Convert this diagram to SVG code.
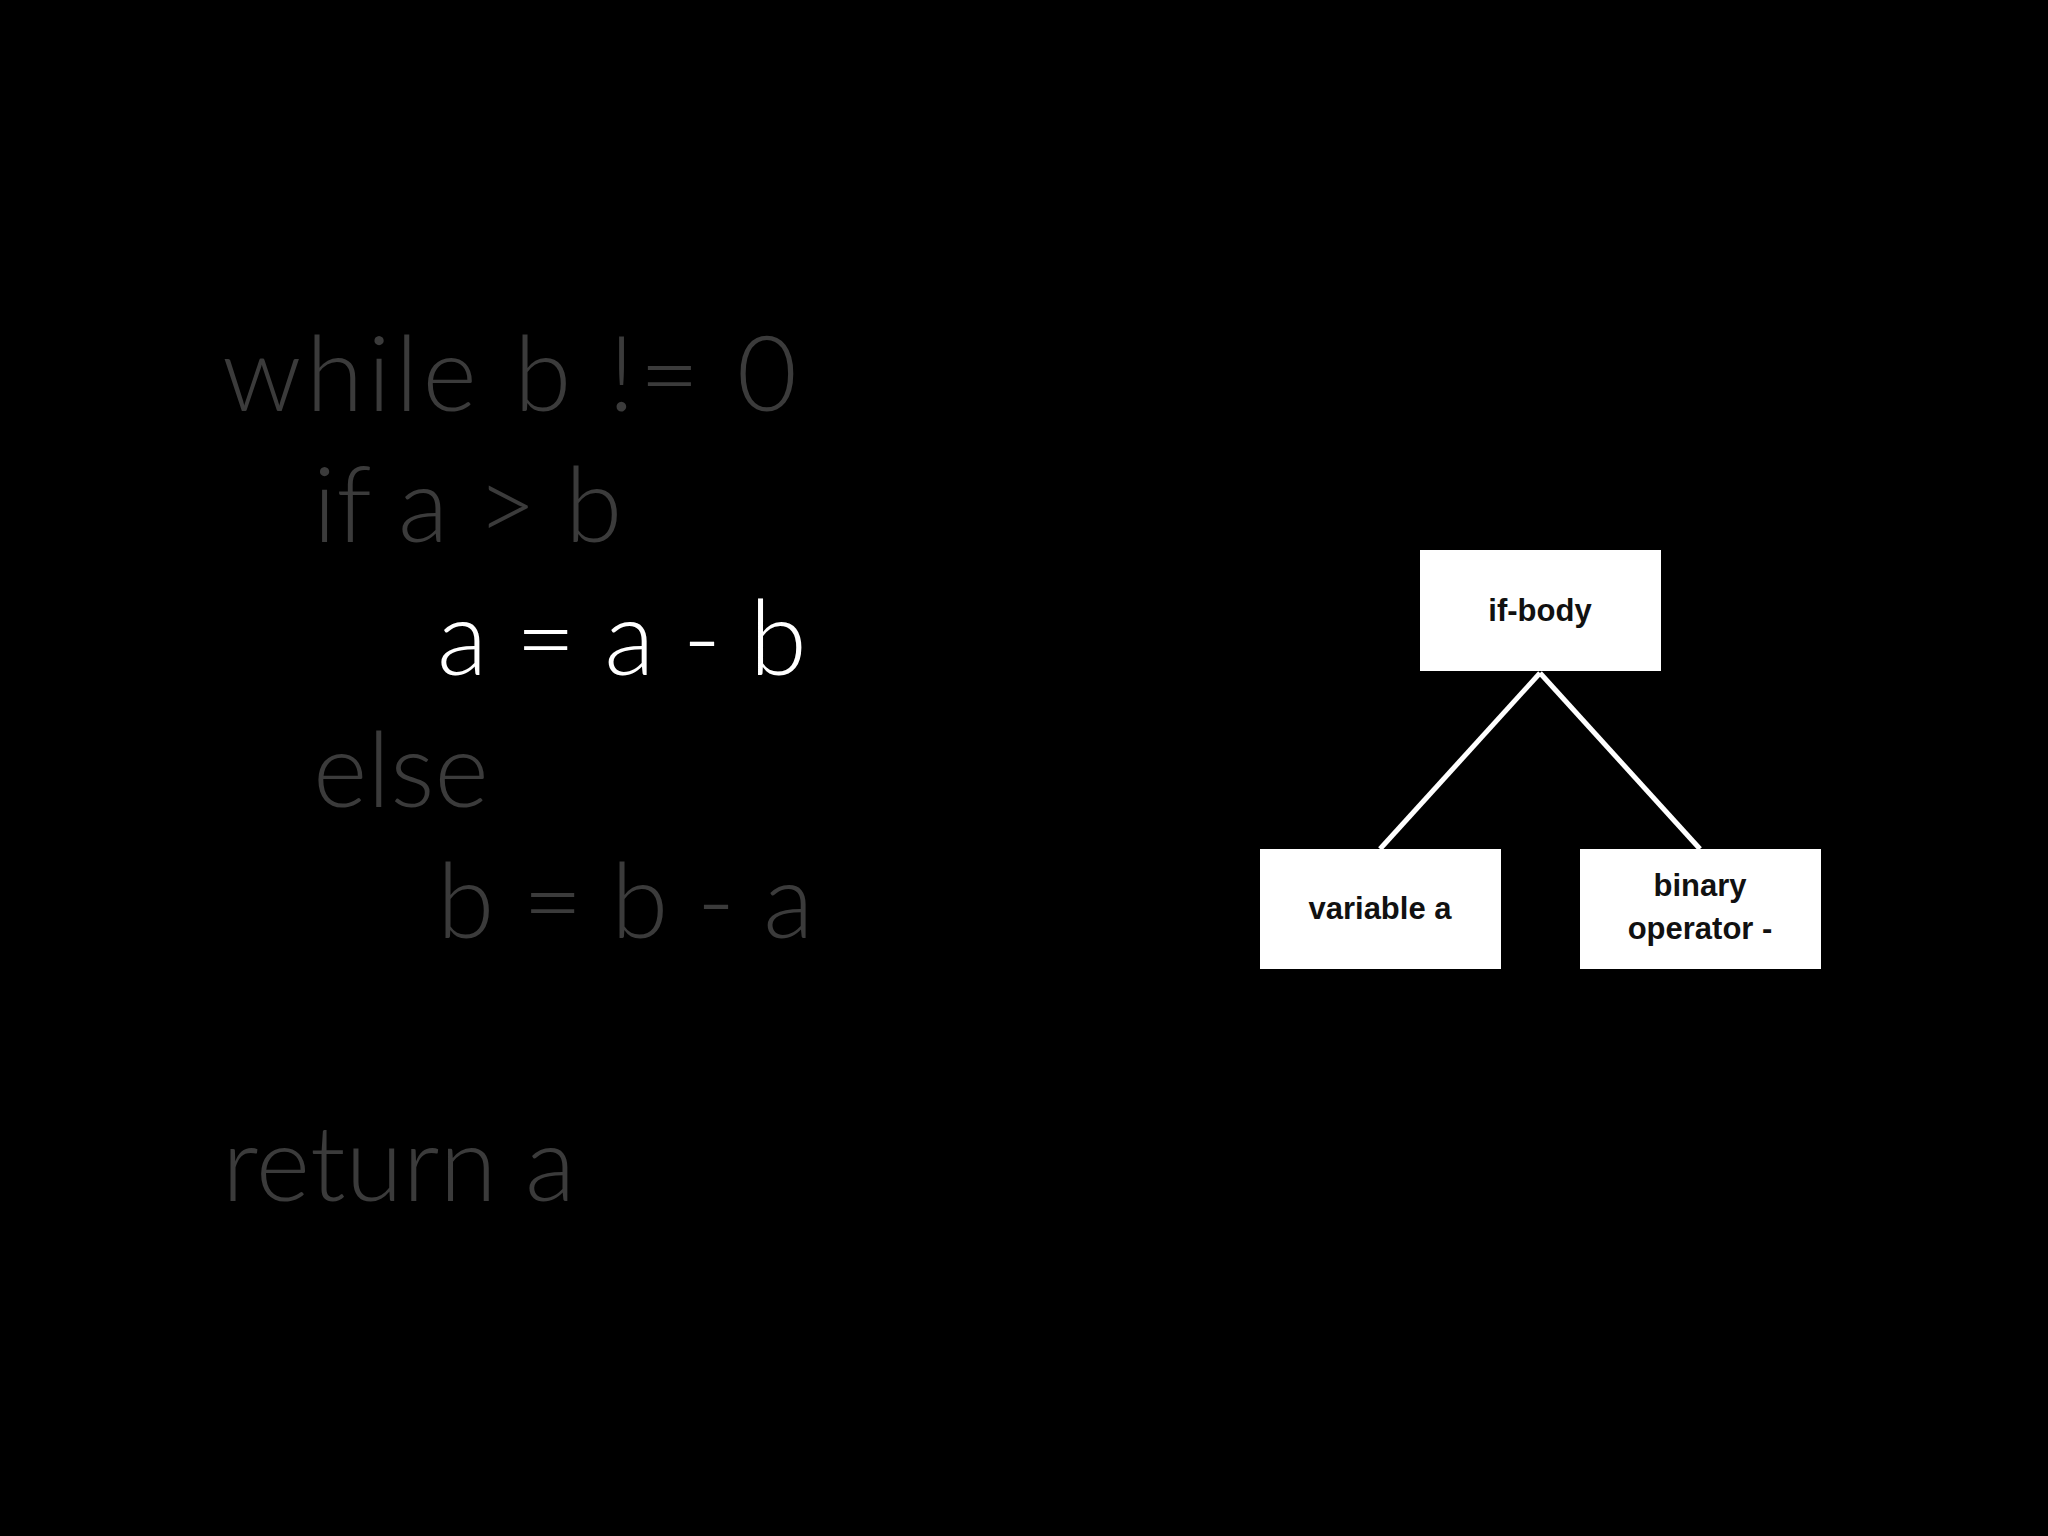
<svg xmlns="http://www.w3.org/2000/svg" width="2048" height="1536" viewBox="0 0 2048 1536">
<style>
.code{font-family:Lato,"Open Sans","Liberation Sans",sans-serif;font-weight:300;font-size:104px;fill:#3b3b3b}
.hl{fill:#ffffff}
.box{fill:#ffffff}
.lbl{font-family:"Liberation Sans",Arial,sans-serif;font-weight:bold;font-size:31px;fill:#111;text-anchor:middle}
.edge{stroke:#ffffff;stroke-width:5;fill:none}
</style>
<rect width="2048" height="1536" fill="#000"/>
<g id="code">
<text class="code" x="222" y="411" textLength="575">while b != 0</text>
<text class="code" x="313" y="542">if a &gt; b</text>
<text class="code hl" x="437" y="675">a = a - b</text>
<text class="code" x="313" y="807">else</text>
<text class="code" x="437" y="938">b = b - a</text>
<text class="code" x="222" y="1201">return a</text>
</g>
<g id="connectors">
<line class="edge" x1="1540" y1="673" x2="1380" y2="849"/>
<line class="edge" x1="1540" y1="673" x2="1700" y2="849"/>
</g>
<g id="if-body"><rect class="box" x="1420" y="550" width="241" height="121"/><text class="lbl" x="1540" y="621">if-body</text></g>
<g id="variable-a"><rect class="box" x="1260" y="849" width="241" height="120"/><text class="lbl" x="1380" y="919">variable a</text></g>
<g id="binary-op"><rect class="box" x="1580" y="849" width="241" height="120"/><text class="lbl" x="1700" y="896">binary</text><text class="lbl" x="1700" y="939">operator -</text></g>
</svg>
